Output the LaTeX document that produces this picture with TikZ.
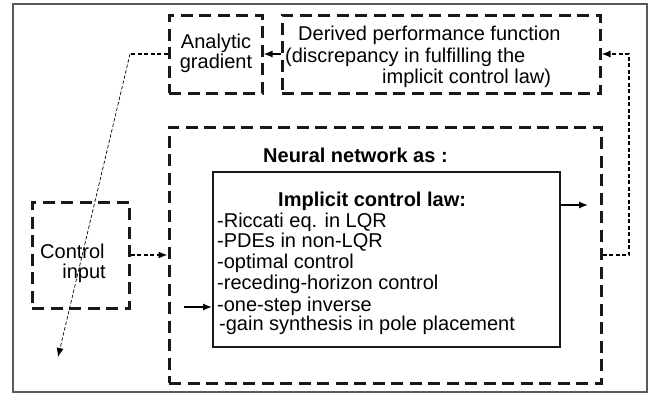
\documentclass[tikz,border=0pt]{standalone}
\usepackage{fontspec}
\setmainfont{Liberation Sans}
\usetikzlibrary{arrows.meta}
\begin{document}
\begin{tikzpicture}[x=1pt,y=-1pt,
  dbox/.style={draw=black!90,line width=3pt,dash pattern=on 12pt off 6.5pt,rectangle,inner sep=0pt},
  sbox/.style={draw=black!90,line width=2pt,rectangle,inner sep=0pt},
  txt/.style={inner sep=0pt,font=\fontsize{20}{22}\selectfont},
  btxt/.style={inner sep=0pt,font=\fontsize{20}{22}\selectfont\bfseries},
  tip/.style={-{Latex[length=9pt,width=7pt]}},
  arr/.style={line width=1.3pt,tip},
  fbline/.style={line width=1.3pt,dash pattern=on 4pt off 2.5pt},
  diag/.style={line width=0.7pt,dash pattern=on 3.5pt off 2pt}]
\useasboundingbox (0,0) rectangle (654,394);
\draw[draw=black!65,line width=1.5pt] (13,4) rectangle (647,392);
% boxes
\node[dbox,minimum width=93pt,minimum height=78pt] (ana) at (215.5,54) {};
\node[dbox,minimum width=318pt,minimum height=78pt] (der) at (441,54) {};
\node[dbox,minimum width=432pt,minimum height=256pt] (nn) at (385,255) {};
\node[sbox,minimum width=347pt,minimum height=175pt] (impl) at (386.5,259.5) {};
\node[dbox,minimum width=97pt,minimum height=106pt] (ctrl) at (80.5,255) {};
% texts
\node[txt,anchor=base] (t1) at (216,48) {Analytic};
\node[txt,anchor=base] (t2) at (216,68) {gradient};
\node[txt,anchor=base west] (t3) at (298,40) {Derived performance function};
\node[txt,anchor=base west] (t4) at (285,62) {(discrepancy in fulfilling the};
\node[txt,anchor=base west] (t5) at (382,83) {implicit control law)};
\node[btxt,anchor=base west] (t6) at (263,162) {Neural network as :};
\node[btxt,anchor=base west] (t7) at (278,206) {Implicit control law:};
\node[txt,anchor=base west] (l1) at (217,227) {-Riccati eq. in LQR};
\node[txt,anchor=base west] (l2) at (217,247.5) {-PDEs in non-LQR};
\node[txt,anchor=base west] (l3) at (217,268) {-optimal control};
\node[txt,anchor=base west] (l4) at (217,289) {-receding-horizon control};
\node[txt,anchor=base west] (l5) at (217,311) {-one-step inverse};
\node[txt,anchor=base west] (l6) at (219,330) {-gain synthesis in pole placement};
\node[txt,anchor=base west] (c1) at (40,258) {Control};
\node[txt,anchor=base east] (c2) at (106,278) {input};
% connectors
\draw[arr] (der.west) -- (ana.east);
\coordinate (bend) at (130,54);
\coordinate (gtip) at (58,357);
\draw[fbline] (ana.west) -- (bend);
\draw[diag,tip] (bend) -- (gtip);
\draw[fbline,tip] (ctrl.east) -- (nn.west);
\coordinate (inx) at (184,307);
\draw[arr] (inx) -- (inx -| impl.west);
\coordinate (outx) at (588,205);
\draw[arr] (outx -| impl.east) -- (outx);
\coordinate (fbc) at (629,255);
\draw[fbline,tip] (nn.east) -- (fbc) |- (der.east);
\end{tikzpicture}
\end{document}
